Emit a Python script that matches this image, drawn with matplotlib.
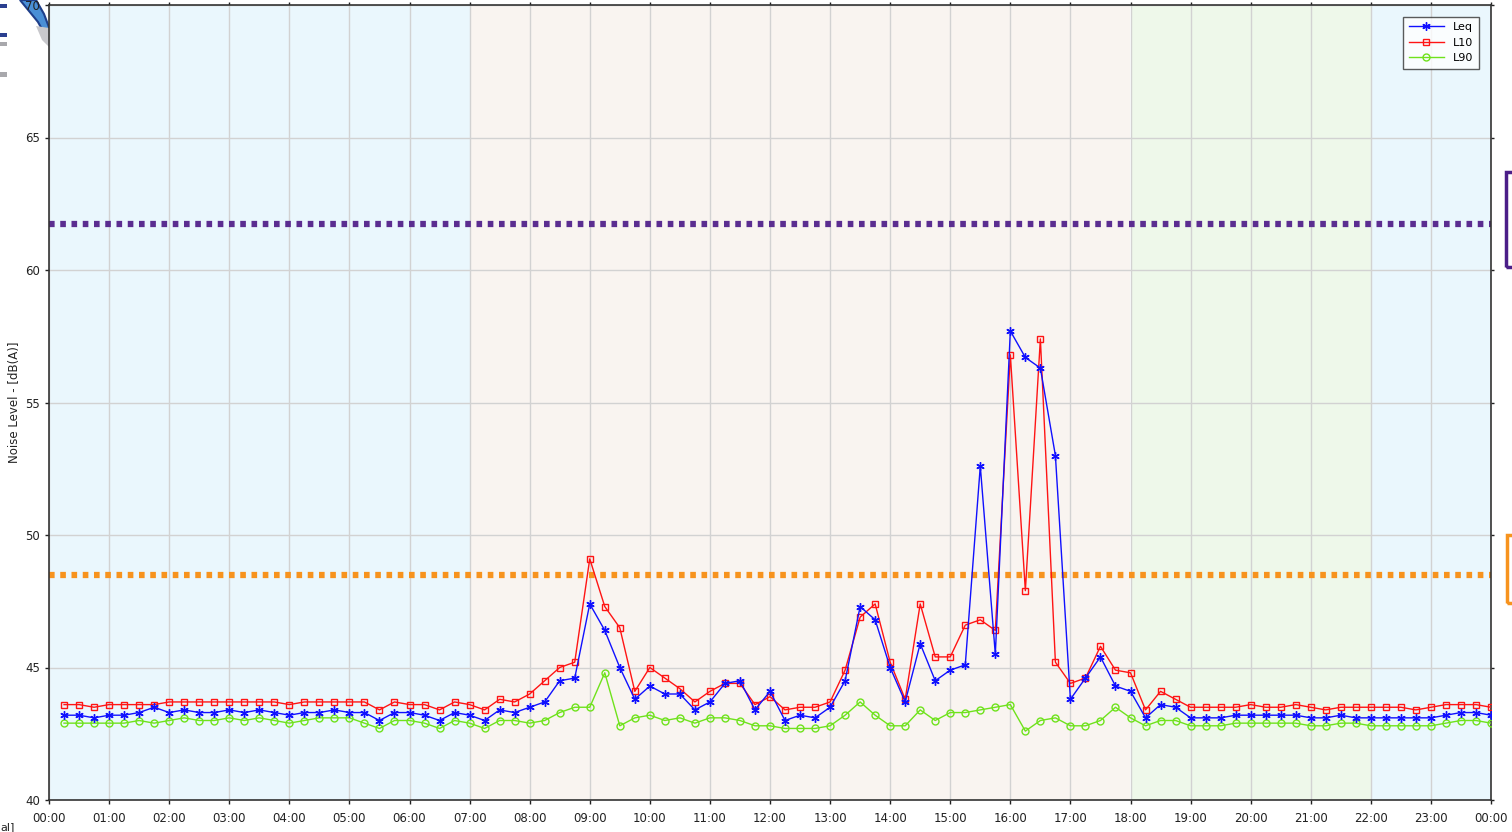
import numpy as np
import pandas as pd
import matplotlib
matplotlib.use("Agg")
import matplotlib.pyplot as plt
import matplotlib.dates as mdates
from matplotlib.patches import Rectangle, Polygon

# 15-min intervals, 00:15 .. 24:00
times = pd.date_range("2000-01-01 00:15", periods=96, freq="15min")

leq = [43.2, 43.2, 43.1, 43.2, 43.2, 43.3, 43.5, 43.3, 43.4, 43.3, 43.3, 43.4, 43.3, 43.4,
       43.3, 43.2, 43.3, 43.3, 43.4, 43.3, 43.3, 43.0, 43.3, 43.3, 43.2, 43.0, 43.3, 43.2,
       43.0, 43.4, 43.3, 43.5, 43.7, 44.5, 44.6, 47.4, 46.4, 45.0, 43.8, 44.3, 44.0, 44.0,
       43.4, 43.7, 44.4, 44.5, 43.4, 44.1, 43.0, 43.2, 43.1,
       43.5, 44.5, 47.3, 46.8, 45.0, 43.7, 45.9, 44.5, 44.9, 45.1, 52.6, 45.5, 57.7, 56.7,
       56.3, 53.0, 43.8, 44.6, 45.4, 44.3, 44.1,
       43.1, 43.6, 43.5, 43.1, 43.1, 43.1, 43.2, 43.2, 43.2, 43.2, 43.2, 43.1, 43.1, 43.2,
       43.1, 43.1, 43.1, 43.1, 43.1, 43.1, 43.2, 43.3, 43.3, 43.2]

l10 = [43.6, 43.6, 43.5, 43.6, 43.6, 43.6, 43.6, 43.7, 43.7, 43.7, 43.7, 43.7, 43.7, 43.7,
       43.7, 43.6, 43.7, 43.7, 43.7, 43.7, 43.7, 43.4, 43.7, 43.6, 43.6, 43.4, 43.7, 43.6,
       43.4, 43.8, 43.7, 44.0, 44.5, 45.0, 45.2, 49.1, 47.3, 46.5, 44.1, 45.0, 44.6, 44.2,
       43.7, 44.1, 44.4, 44.4, 43.6, 43.9, 43.4, 43.5, 43.5,
       43.7, 44.9, 46.9, 47.4, 45.2, 43.8, 47.4, 45.4, 45.4, 46.6, 46.8, 46.4, 56.8, 47.9,
       57.4, 45.2, 44.4, 44.6, 45.8, 44.9, 44.8,
       43.4, 44.1, 43.8, 43.5, 43.5, 43.5, 43.5, 43.6, 43.5, 43.5, 43.6, 43.5, 43.4, 43.5,
       43.5, 43.5, 43.5, 43.5, 43.4, 43.5, 43.6, 43.6, 43.6, 43.5]

l90 = [42.9, 42.9, 42.9, 42.9, 42.9, 43.0, 42.9, 43.0, 43.1, 43.0, 43.0, 43.1, 43.0, 43.1,
       43.0, 42.9, 43.0, 43.1, 43.1, 43.1, 42.9, 42.7, 43.0, 43.0, 42.9, 42.7, 43.0, 42.9,
       42.7, 43.0, 43.0, 42.9, 43.0, 43.3, 43.5, 43.5, 44.8, 42.8, 43.1, 43.2, 43.0, 43.1,
       42.9, 43.1, 43.1, 43.0, 42.8, 42.8, 42.7, 42.7, 42.7,
       42.8, 43.2, 43.7, 43.2, 42.8, 42.8, 43.4, 43.0, 43.3, 43.3, 43.4, 43.5, 43.6, 42.6,
       43.0, 43.1, 42.8, 42.8, 43.0, 43.5, 43.1,
       42.8, 43.0, 43.0, 42.8, 42.8, 42.8, 42.9, 42.9, 42.9, 42.9, 42.9, 42.8, 42.8, 42.9,
       42.9, 42.8, 42.8, 42.8, 42.8, 42.8, 42.9, 43.0, 43.0, 42.9]

# background periods (night / day / evening / night)
period_start = ["00:00", "07:00", "18:00", "22:00"]
period_end = ["07:00", "18:00", "22:00", "24:00"]
period_color = ["#eaf7fd", "#f9f4f0", "#eef8ea", "#eaf7fd"]

# limit lines
limit_vals = [61.75, 48.5]
limit_colors = ["#5b2d90", "#f7931e"]

day0 = pd.Timestamp("2000-01-01")


def to_ts(s):
    h, m = s.split(":")
    return day0 + pd.Timedelta(hours=int(h), minutes=int(m))


fig = plt.figure(figsize=(15.12, 8.32), dpi=100)
ax = fig.add_axes([49 / 1512, 32 / 832, 1442 / 1512, 795 / 832])
ax.set_zorder(1)

for s, e, c in zip(period_start, period_end, period_color):
    ax.axvspan(to_ts(s), to_ts(e), color=c, zorder=0, lw=0)

ax.grid(True, color="#d2d2d2", linewidth=1, zorder=1)

for v, c in zip(limit_vals, limit_colors):
    ax.axhline(v, color=c, linewidth=4.5, linestyle=(0, (0.9, 0.9)), zorder=2)

ax.plot(times, leq, color="#1010ff", linewidth=1, marker=(6, 2, 0), markersize=6,
        markeredgewidth=1, label="Leq", zorder=5)
ax.plot(times, l10, color="#ff1414", linewidth=1, marker="s", markersize=4.5,
        markerfacecolor="none", markeredgewidth=1, label="L10", zorder=4)
ax.plot(times, l90, color="#6fe21c", linewidth=1, marker="o", markersize=5,
        markerfacecolor="none", markeredgewidth=1, label="L90", zorder=3)

ax.set_xlim(day0, day0 + pd.Timedelta(hours=24))
ax.set_ylim(40, 70)
ax.set_yticks(np.arange(40, 71, 5))
ax.xaxis.set_major_locator(mdates.HourLocator(interval=1))
ax.xaxis.set_major_formatter(mdates.DateFormatter("%H:%M"))

for sp in ax.spines.values():
    sp.set_color("#333333")
    sp.set_linewidth(1.2)
ax.tick_params(axis="both", labelsize=8.5, colors="#222222", length=3, width=1,
               direction="out")
ax.tick_params(axis="both", which="major", top=True, right=True)
ax.xaxis.set_tick_params(which="major", pad=6)
for t in ax.xaxis.get_major_ticks():
    t.tick2line.set_markersize(2)
for t in ax.yaxis.get_major_ticks():
    t.tick2line.set_markersize(2)

ax.set_ylabel("Noise Level - [dB(A)]", fontsize=8.5, color="#222222")
ax.yaxis.set_label_coords(-0.0194, 0.5)

leg = ax.legend(loc="upper right", fontsize=8, frameon=True, fancybox=False,
                edgecolor="#333333", borderpad=0.5, handlelength=3.2,
                labelspacing=0.5, bbox_to_anchor=(0.9955, 0.9925))
leg.get_frame().set_linewidth(1)


# cut-off decorations at figure edges (logo remnants, side labels)
def fpts(pts):
    return [(x / 1512, 1 - y / 832) for x, y in pts]


fig.patches.append(Polygon(fpts([(20, 0), (36, 0), (44, 14), (50, 30), (48, 40), (38, 22)]),
                           closed=True, facecolor="#4a8fd6", edgecolor="#1f3f8a", lw=1.5,
                           transform=fig.transFigure, zorder=-1))
fig.patches.append(Polygon(fpts([(36, 26), (49, 28), (49, 47), (42, 40)]), closed=True,
                           facecolor="#c8c8cc", edgecolor="none",
                           transform=fig.transFigure, zorder=-1))
for (y0, y1, col) in [(4, 8, "#2a3f90"), (33, 37, "#2a3f90"), (42, 46, "#a8a8ac"),
                      (72, 77, "#a8a8ac")]:
    fig.patches.append(Rectangle((0, 1 - y1 / 832), 7 / 1512, (y1 - y0) / 832,
                                 facecolor=col, edgecolor="none",
                                 transform=fig.transFigure, zorder=-1))
fig.patches.append(Rectangle((1506 / 1512, 1 - 267 / 832), 20 / 1512, 95 / 832,
                             facecolor="none", edgecolor="#4b1e88", lw=2.5,
                             transform=fig.transFigure, clip_on=False))
fig.patches.append(Rectangle((1507 / 1512, 1 - 603 / 832), 20 / 1512, 68 / 832,
                             facecolor="none", edgecolor="#f7931e", lw=2.5,
                             transform=fig.transFigure, clip_on=False))
fig.text(0.0, 0.0, "al]", fontsize=8, color="#222222", ha="left", va="bottom")

fig.savefig("out.png", dpi=100)
